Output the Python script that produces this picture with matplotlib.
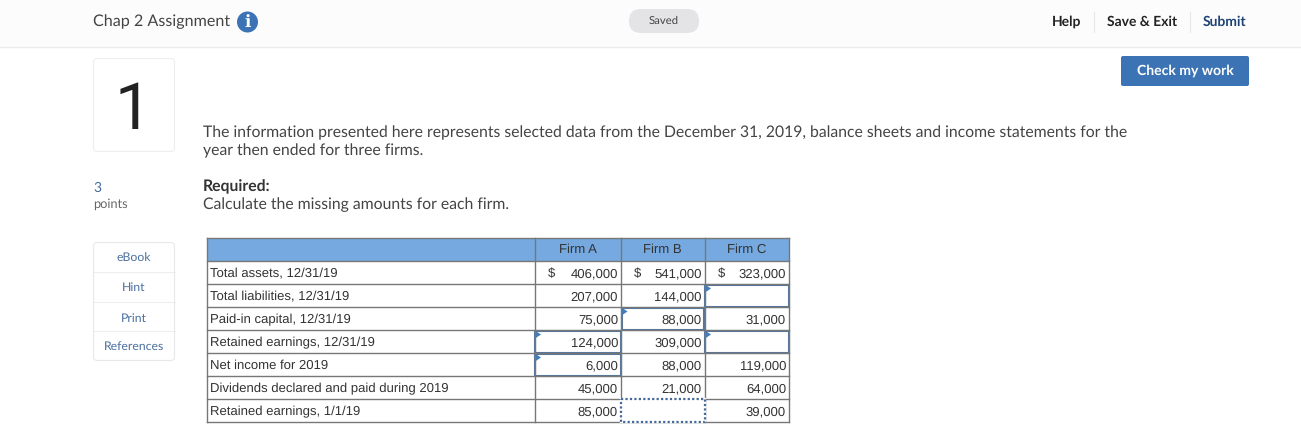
#!/usr/bin/env python3
# Assignment page screenshot, drawn in pixel coordinates
import matplotlib
matplotlib.use("Agg")
import matplotlib.pyplot as plt
from matplotlib.patches import Rectangle, FancyBboxPatch, Circle, Polygon

plt.rcParams["text.hinting"] = "no_hinting"

UI_FONT = "Lato"
TABLE_FONT = "Liberation Sans"

# Data
firms = ["Firm A", "Firm B", "Firm C"]
row_labels = [
    "Total assets, 12/31/19",
    "Total liabilities, 12/31/19",
    "Paid-in capital, 12/31/19",
    "Retained earnings, 12/31/19",
    "Net income for 2019",
    "Dividends declared and paid during 2019",
    "Retained earnings, 1/1/19",
]
firm_a = [406000, 207000, 75000, 124000, 6000, 45000, 85000]
firm_b = [541000, 144000, 88000, 309000, 88000, 21000, None]
firm_c = [323000, None, 31000, None, 119000, 64000, 39000]
# (row, column) of the answer cells
answered_cells = [(1, 2), (2, 1), (3, 0), (3, 2), (4, 0)]
focused_cell = (6, 1)
side_links = ["eBook", "Hint", "Print", "References"]
intro_lines = [
    "The information presented here represents selected data from the December 31, 2019, "
    "balance sheets and income statements for the",
    "year then ended for three firms.",
]

# Geometry
W, H = 1301, 433
COL_X = [206.5, 534.5, 621, 704.5, 789]
ROW_Y = [238, 261, 284, 307, 330, 353, 376, 399, 422]
LINK_Y = [242, 272, 302, 331, 360]

GRID = "#777777"
BLUE = "#3b73b4"
CELL_BORDER = "#55779f"
LINK = "#4a6f9e"
TEXT = "#333333"
BODY = "#444444"
TABLE_SIZE = 9.42


def rounded(ax, x, y, w, h, r, face, edge="none", lw=0.8):
    ax.add_patch(FancyBboxPatch((x, y), w, h, boxstyle=f"round,pad=0,rounding_size={r}",
                                facecolor=face, edgecolor=edge, linewidth=lw))


def ui_text(ax, x, y, s, size=11.38, color=BODY, ha="left", weight="normal"):
    ax.text(x, y, s, fontsize=size, color=color, ha=ha, va="center",
            family=UI_FONT, fontweight=weight)


def draw_header(ax):
    ax.add_patch(Rectangle((0, 0), W, 47, facecolor="#fcfcfc", edgecolor="none"))
    ax.plot([0, W], [47, 47], color="#ececec", lw=1)
    ui_text(ax, 93, 21.5, "Chap 2 Assignment", size=11.6, color="#444444")
    ax.add_patch(Circle((247.5, 22), 10.5, facecolor=BLUE, edgecolor="none"))
    ax.text(247.5, 22, "i", fontsize=12, color="white", ha="center", va="center",
            family="DejaVu Serif", fontweight="bold")
    rounded(ax, 629, 9, 70, 24, 12, "#e4e4e6")
    ui_text(ax, 664, 20.5, "Saved", size=8.2, color="#444444", ha="center")
    ui_text(ax, 1066.5, 21.5, "Help", size=10, color="#222222", ha="center", weight="bold")
    ui_text(ax, 1142, 21.5, "Save & Exit", size=10, color="#222222", ha="center", weight="bold")
    ui_text(ax, 1224.5, 21.5, "Submit", size=10, color="#1d4374", ha="center", weight="bold")
    for x in [1093.5, 1189.5]:
        ax.plot([x, x], [12, 32], color="#e8e8e8", lw=0.8)
    rounded(ax, 1121, 56, 128, 30, 2, BLUE)
    ui_text(ax, 1185, 70.5, "Check my work", size=10.1, color="white", ha="center", weight="bold")


def draw_sidebar(ax):
    rounded(ax, 93.5, 58.5, 81, 93, 4, "white", edge="#eeeeee")
    ax.text(133, 111, "1", fontsize=47, color="#222222", ha="center", va="center",
            family="Roboto")
    ui_text(ax, 93, 187.5, "3", size=10, color=LINK)
    ui_text(ax, 93, 204.5, "points", size=9.2, color="#666666")
    rounded(ax, 93.5, 242.5, 81, 118, 4, "white", edge="#e8e8e8")
    for y in LINK_Y[1:-1]:
        ax.plot([93.5, 174.5], [y, y], color="#eeeeee", lw=0.8)
    for name, y in zip(side_links, [257.5, 287.5, 318.5, 346.5]):
        ui_text(ax, 134, y, name, size=8.8, color=LINK, ha="center")


def draw_question(ax):
    ui_text(ax, 203, 132.5, intro_lines[0])
    ui_text(ax, 203, 150.5, intro_lines[1])
    ui_text(ax, 203, 186.5, "Required:", weight="bold", color="#333333")
    ui_text(ax, 203, 204.5, "Calculate the missing amounts for each firm.")


def draw_table(ax):
    ax.add_patch(Rectangle((COL_X[0], ROW_Y[0]), COL_X[-1] - COL_X[0], ROW_Y[1] - ROW_Y[0],
                           facecolor="#75a9e0", edgecolor="none"))
    for y in ROW_Y:
        ax.plot([COL_X[0], COL_X[-1]], [y, y], color=GRID, lw=1)
    for x in COL_X:
        ax.plot([x, x], [ROW_Y[0], ROW_Y[-1]], color=GRID, lw=1)

    for i, firm in enumerate(firms):
        ax.text((COL_X[i + 1] + COL_X[i + 2]) / 2, 249.5, firm, fontsize=TABLE_SIZE, color=TEXT,
                ha="center", va="center", family=TABLE_FONT)

    for r, label in enumerate(row_labels):
        y = (ROW_Y[r + 1] + ROW_Y[r + 2]) / 2 + 1
        ax.text(210, y, label, fontsize=TABLE_SIZE, color=TEXT, ha="left", va="center",
                family=TABLE_FONT)
        for c, values in enumerate([firm_a, firm_b, firm_c]):
            if values[r] is None:
                continue
            ax.text(COL_X[c + 2] - 3, y, f"{values[r]:,}", fontsize=TABLE_SIZE, color=TEXT,
                    ha="right", va="center", family=TABLE_FONT)
            if r == 0:
                ax.text(COL_X[c + 1] + 13, y, "$", fontsize=TABLE_SIZE, color=TEXT,
                        ha="left", va="center", family=TABLE_FONT)

    for r, c in answered_cells:
        x0, x1 = COL_X[c + 1] + 0.5, COL_X[c + 2] - 0.5
        y0, y1 = ROW_Y[r + 1] + 0.5, ROW_Y[r + 2] - 0.5
        ax.add_patch(Rectangle((x0, y0), x1 - x0, y1 - y0, facecolor="none",
                               edgecolor=CELL_BORDER, linewidth=1.5))
        ax.add_patch(Polygon([(x0, y0), (x0 + 6, y0 + 4), (x0, y0 + 8)],
                             facecolor="#3f7cc0", edgecolor="none"))

    # focused answer cell: white fill hides the grid, dotted outline on top
    r, c = focused_cell
    x0, x1 = COL_X[c + 1] - 0.5, COL_X[c + 2] + 0.5
    y0, y1 = ROW_Y[r + 1], ROW_Y[r + 2]
    ax.add_patch(Rectangle((x0, y0), x1 - x0, y1 - y0, facecolor="white",
                           edgecolor="white", linewidth=1.6, zorder=3))
    ax.plot([x0, x1, x1, x0, x0], [y0, y0, y1, y1, y0], color="#44699a", lw=1.6,
            linestyle=(0, (1, 1)), dash_capstyle="butt", zorder=4)


fig = plt.figure(figsize=(W / 100, H / 100), dpi=100)
ax = fig.add_axes([0, 0, 1, 1])
ax.set_xlim(0, W)
ax.set_ylim(H, 0)
ax.axis("off")

draw_header(ax)
draw_sidebar(ax)
draw_question(ax)
draw_table(ax)

fig.savefig("out.png", dpi=100, facecolor="white")
